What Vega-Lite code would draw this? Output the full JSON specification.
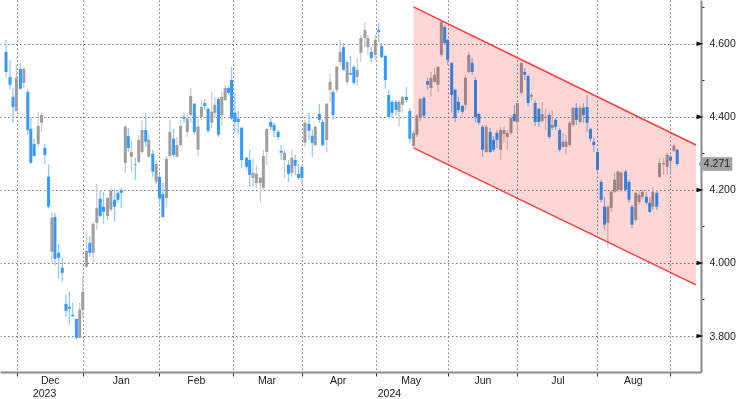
{
  "$schema": "https://vega.github.io/schema/vega-lite/v6.json",
  "width": 701,
  "height": 372,
  "autosize": {"type": "none"},
  "padding": {"left": 0, "top": 0, "right": 36, "bottom": 27},
  "background": "white",
  "config": {
    "view": {"stroke": null},
    "axis": {"labelFont": "Liberation Sans", "labelFontSize": 10.5, "labelColor": "#1a1a1a", "title": null}
  },
  "datasets": {
    "candles": [
{"t":0.3,"o":4.578,"h":4.611,"l":4.509,"c":4.523},
{"t":1.5,"o":4.509,"h":4.556,"l":4.474,"c":4.488},
{"t":2.4,"o":4.455,"h":4.479,"l":4.384,"c":4.427},
{"t":3.4,"o":4.416,"h":4.542,"l":4.414,"c":4.507},
{"t":4.6,"o":4.531,"h":4.548,"l":4.474,"c":4.477},
{"t":5.6,"o":4.493,"h":4.537,"l":4.479,"c":4.531},
{"t":6.8,"o":4.468,"h":4.474,"l":4.351,"c":4.364},
{"t":7.7,"o":4.367,"h":4.400,"l":4.272,"c":4.274},
{"t":8.7,"o":4.326,"h":4.340,"l":4.291,"c":4.293},
{"t":9.9,"o":4.326,"h":4.414,"l":4.318,"c":4.375},
{"t":10.9,"o":4.384,"h":4.414,"l":4.359,"c":4.405},
{"t":11.9,"o":4.315,"h":4.326,"l":4.271,"c":4.296},
{"t":13.0,"o":4.236,"h":4.269,"l":4.150,"c":4.154},
{"t":14.0,"o":4.031,"h":4.140,"l":4.001,"c":4.124},
{"t":14.9,"o":4.126,"h":4.137,"l":3.992,"c":4.012},
{"t":16.0,"o":4.028,"h":4.053,"l":3.957,"c":4.014},
{"t":17.1,"o":3.987,"h":4.014,"l":3.949,"c":3.973},
{"t":18.2,"o":3.888,"h":3.913,"l":3.853,"c":3.869},
{"t":19.2,"o":3.880,"h":3.921,"l":3.831,"c":3.875},
{"t":20.2,"o":3.858,"h":3.891,"l":3.853,"c":3.854},
{"t":21.3,"o":3.847,"h":3.847,"l":3.790,"c":3.795},
{"t":22.3,"o":3.795,"h":3.891,"l":3.793,"c":3.872},
{"t":23.2,"o":3.872,"h":3.968,"l":3.850,"c":3.921},
{"t":24.3,"o":3.990,"h":4.085,"l":3.987,"c":4.033},
{"t":25.3,"o":4.055,"h":4.072,"l":4.017,"c":4.028},
{"t":26.3,"o":4.028,"h":4.113,"l":4.001,"c":4.107},
{"t":27.4,"o":4.110,"h":4.217,"l":4.091,"c":4.151},
{"t":28.4,"o":4.176,"h":4.200,"l":4.124,"c":4.129},
{"t":29.4,"o":4.154,"h":4.195,"l":4.107,"c":4.140},
{"t":30.6,"o":4.129,"h":4.181,"l":4.118,"c":4.178},
{"t":31.6,"o":4.146,"h":4.209,"l":4.140,"c":4.198},
{"t":32.7,"o":4.173,"h":4.200,"l":4.115,"c":4.154},
{"t":33.7,"o":4.192,"h":4.200,"l":4.165,"c":4.173},
{"t":34.7,"o":4.200,"h":4.206,"l":4.151,"c":4.192},
{"t":35.9,"o":4.274,"h":4.378,"l":4.247,"c":4.373},
{"t":36.8,"o":4.348,"h":4.370,"l":4.304,"c":4.315},
{"t":37.7,"o":4.291,"h":4.337,"l":4.250,"c":4.304},
{"t":38.9,"o":4.271,"h":4.288,"l":4.228,"c":4.269},
{"t":39.9,"o":4.277,"h":4.351,"l":4.274,"c":4.337},
{"t":40.9,"o":4.304,"h":4.392,"l":4.299,"c":4.364},
{"t":42.0,"o":4.364,"h":4.411,"l":4.318,"c":4.332},
{"t":42.9,"o":4.291,"h":4.351,"l":4.288,"c":4.337},
{"t":44.1,"o":4.299,"h":4.310,"l":4.236,"c":4.250},
{"t":45.1,"o":4.222,"h":4.282,"l":4.217,"c":4.271},
{"t":46.1,"o":4.236,"h":4.244,"l":4.162,"c":4.176},
{"t":47.1,"o":4.189,"h":4.219,"l":4.124,"c":4.126},
{"t":48.2,"o":4.178,"h":4.293,"l":4.151,"c":4.285},
{"t":49.2,"o":4.293,"h":4.392,"l":4.288,"c":4.359},
{"t":50.3,"o":4.340,"h":4.367,"l":4.291,"c":4.296},
{"t":51.3,"o":4.291,"h":4.345,"l":4.288,"c":4.323},
{"t":52.4,"o":4.323,"h":4.392,"l":4.318,"c":4.375},
{"t":53.4,"o":4.400,"h":4.411,"l":4.384,"c":4.395},
{"t":54.4,"o":4.359,"h":4.405,"l":4.345,"c":4.395},
{"t":55.4,"o":4.405,"h":4.479,"l":4.384,"c":4.457},
{"t":56.5,"o":4.436,"h":4.438,"l":4.353,"c":4.359},
{"t":57.6,"o":4.310,"h":4.400,"l":4.291,"c":4.373},
{"t":58.6,"o":4.400,"h":4.446,"l":4.392,"c":4.427},
{"t":59.6,"o":4.438,"h":4.449,"l":4.419,"c":4.430},
{"t":60.6,"o":4.422,"h":4.425,"l":4.356,"c":4.362},
{"t":61.7,"o":4.384,"h":4.468,"l":4.370,"c":4.414},
{"t":62.6,"o":4.411,"h":4.455,"l":4.397,"c":4.433},
{"t":63.7,"o":4.449,"h":4.455,"l":4.345,"c":4.351},
{"t":64.7,"o":4.405,"h":4.468,"l":4.375,"c":4.455},
{"t":65.7,"o":4.446,"h":4.488,"l":4.444,"c":4.479},
{"t":66.7,"o":4.479,"h":4.485,"l":4.460,"c":4.466},
{"t":67.6,"o":4.501,"h":4.537,"l":4.392,"c":4.395},
{"t":68.6,"o":4.411,"h":4.466,"l":4.356,"c":4.386},
{"t":69.6,"o":4.395,"h":4.416,"l":4.356,"c":4.386},
{"t":70.6,"o":4.370,"h":4.373,"l":4.260,"c":4.282},
{"t":72.1,"o":4.288,"h":4.291,"l":4.255,"c":4.263},
{"t":73.0,"o":4.282,"h":4.310,"l":4.209,"c":4.241},
{"t":74.0,"o":4.233,"h":4.288,"l":4.209,"c":4.247},
{"t":75.0,"o":4.219,"h":4.269,"l":4.206,"c":4.244},
{"t":76.2,"o":4.219,"h":4.236,"l":4.165,"c":4.233},
{"t":77.1,"o":4.206,"h":4.310,"l":4.200,"c":4.293},
{"t":78.1,"o":4.304,"h":4.370,"l":4.269,"c":4.367},
{"t":79.3,"o":4.386,"h":4.397,"l":4.364,"c":4.373},
{"t":80.3,"o":4.378,"h":4.384,"l":4.345,"c":4.362},
{"t":81.5,"o":4.359,"h":4.364,"l":4.337,"c":4.345},
{"t":82.4,"o":4.307,"h":4.323,"l":4.282,"c":4.302},
{"t":83.4,"o":4.282,"h":4.310,"l":4.233,"c":4.302},
{"t":84.6,"o":4.269,"h":4.282,"l":4.222,"c":4.244},
{"t":85.6,"o":4.247,"h":4.310,"l":4.236,"c":4.288},
{"t":86.6,"o":4.282,"h":4.296,"l":4.241,"c":4.266},
{"t":87.6,"o":4.244,"h":4.271,"l":4.228,"c":4.233},
{"t":88.6,"o":4.263,"h":4.269,"l":4.214,"c":4.233},
{"t":89.5,"o":4.329,"h":4.392,"l":4.318,"c":4.384},
{"t":90.7,"o":4.381,"h":4.411,"l":4.337,"c":4.362},
{"t":91.7,"o":4.348,"h":4.364,"l":4.291,"c":4.329},
{"t":92.6,"o":4.323,"h":4.378,"l":4.318,"c":4.373},
{"t":93.8,"o":4.408,"h":4.436,"l":4.384,"c":4.392},
{"t":94.8,"o":4.386,"h":4.392,"l":4.318,"c":4.323},
{"t":96.0,"o":4.337,"h":4.438,"l":4.304,"c":4.436},
{"t":97.0,"o":4.474,"h":4.520,"l":4.441,"c":4.496},
{"t":97.9,"o":4.468,"h":4.474,"l":4.392,"c":4.405},
{"t":99.0,"o":4.474,"h":4.539,"l":4.466,"c":4.537},
{"t":100.0,"o":4.550,"h":4.611,"l":4.542,"c":4.578},
{"t":101.0,"o":4.591,"h":4.602,"l":4.526,"c":4.529},
{"t":102.1,"o":4.496,"h":4.556,"l":4.488,"c":4.550},
{"t":103.1,"o":4.520,"h":4.567,"l":4.515,"c":4.516},
{"t":104.1,"o":4.537,"h":4.542,"l":4.488,"c":4.493},
{"t":105.1,"o":4.509,"h":4.559,"l":4.485,"c":4.529},
{"t":106.2,"o":4.575,"h":4.624,"l":4.550,"c":4.616},
{"t":107.4,"o":4.616,"h":4.660,"l":4.591,"c":4.638},
{"t":108.3,"o":4.591,"h":4.624,"l":4.570,"c":4.616},
{"t":109.3,"o":4.578,"h":4.591,"l":4.548,"c":4.561},
{"t":110.5,"o":4.570,"h":4.624,"l":4.556,"c":4.611},
{"t":111.5,"o":4.638,"h":4.657,"l":4.605,"c":4.632},
{"t":112.4,"o":4.594,"h":4.602,"l":4.561,"c":4.564},
{"t":113.5,"o":4.567,"h":4.570,"l":4.477,"c":4.501},
{"t":114.5,"o":4.460,"h":4.474,"l":4.397,"c":4.400},
{"t":115.5,"o":4.441,"h":4.446,"l":4.397,"c":4.411},
{"t":116.7,"o":4.441,"h":4.446,"l":4.405,"c":4.419},
{"t":117.6,"o":4.414,"h":4.446,"l":4.373,"c":4.441},
{"t":118.6,"o":4.433,"h":4.457,"l":4.411,"c":4.455},
{"t":119.8,"o":4.455,"h":4.482,"l":4.441,"c":4.446},
{"t":120.8,"o":4.416,"h":4.425,"l":4.329,"c":4.340},
{"t":121.9,"o":4.321,"h":4.362,"l":4.318,"c":4.356},
{"t":122.9,"o":4.351,"h":4.408,"l":4.345,"c":4.403},
{"t":123.9,"o":4.397,"h":4.452,"l":4.386,"c":4.449},
{"t":125.0,"o":4.452,"h":4.457,"l":4.397,"c":4.403},
{"t":126.1,"o":4.498,"h":4.507,"l":4.474,"c":4.488},
{"t":127.1,"o":4.479,"h":4.523,"l":4.455,"c":4.507},
{"t":128.2,"o":4.496,"h":4.534,"l":4.493,"c":4.515},
{"t":129.2,"o":4.488,"h":4.537,"l":4.468,"c":4.537},
{"t":130.2,"o":4.570,"h":4.665,"l":4.564,"c":4.660},
{"t":131.2,"o":4.646,"h":4.652,"l":4.597,"c":4.602},
{"t":132.1,"o":4.611,"h":4.613,"l":4.542,"c":4.556},
{"t":133.3,"o":4.548,"h":4.550,"l":4.411,"c":4.460},
{"t":134.3,"o":4.474,"h":4.477,"l":4.386,"c":4.397},
{"t":135.3,"o":4.441,"h":4.455,"l":4.411,"c":4.419},
{"t":136.5,"o":4.430,"h":4.433,"l":4.408,"c":4.414},
{"t":137.4,"o":4.433,"h":4.515,"l":4.419,"c":4.507},
{"t":138.4,"o":4.523,"h":4.578,"l":4.520,"c":4.570},
{"t":139.4,"o":4.548,"h":4.561,"l":4.515,"c":4.523},
{"t":140.4,"o":4.501,"h":4.509,"l":4.384,"c":4.400},
{"t":141.4,"o":4.408,"h":4.411,"l":4.378,"c":4.384},
{"t":142.5,"o":4.373,"h":4.378,"l":4.291,"c":4.310},
{"t":143.6,"o":4.304,"h":4.378,"l":4.302,"c":4.373},
{"t":144.8,"o":4.359,"h":4.370,"l":4.302,"c":4.304},
{"t":145.8,"o":4.337,"h":4.348,"l":4.304,"c":4.310},
{"t":146.8,"o":4.356,"h":4.364,"l":4.315,"c":4.337},
{"t":147.9,"o":4.310,"h":4.373,"l":4.282,"c":4.364},
{"t":148.9,"o":4.353,"h":4.373,"l":4.329,"c":4.364},
{"t":149.9,"o":4.345,"h":4.364,"l":4.310,"c":4.356},
{"t":151.0,"o":4.356,"h":4.405,"l":4.351,"c":4.397},
{"t":152.0,"o":4.408,"h":4.433,"l":4.386,"c":4.389},
{"t":152.9,"o":4.386,"h":4.438,"l":4.359,"c":4.438},
{"t":154.1,"o":4.466,"h":4.550,"l":4.460,"c":4.548},
{"t":155.1,"o":4.523,"h":4.534,"l":4.501,"c":4.515},
{"t":156.1,"o":4.512,"h":4.515,"l":4.427,"c":4.438},
{"t":157.1,"o":4.455,"h":4.466,"l":4.446,"c":4.460},
{"t":158.2,"o":4.438,"h":4.446,"l":4.375,"c":4.386},
{"t":159.3,"o":4.422,"h":4.425,"l":4.373,"c":4.386},
{"t":160.3,"o":4.389,"h":4.441,"l":4.384,"c":4.408},
{"t":161.3,"o":4.397,"h":4.422,"l":4.364,"c":4.400},
{"t":162.4,"o":4.405,"h":4.411,"l":4.340,"c":4.345},
{"t":163.3,"o":4.370,"h":4.419,"l":4.364,"c":4.378},
{"t":164.3,"o":4.392,"h":4.397,"l":4.364,"c":4.373},
{"t":165.5,"o":4.364,"h":4.370,"l":4.304,"c":4.310},
{"t":166.5,"o":4.318,"h":4.356,"l":4.315,"c":4.332},
{"t":167.4,"o":4.318,"h":4.351,"l":4.296,"c":4.332},
{"t":168.5,"o":4.323,"h":4.389,"l":4.318,"c":4.384},
{"t":169.5,"o":4.378,"h":4.427,"l":4.373,"c":4.425},
{"t":170.5,"o":4.425,"h":4.438,"l":4.378,"c":4.392},
{"t":171.6,"o":4.386,"h":4.430,"l":4.381,"c":4.425},
{"t":172.6,"o":4.425,"h":4.438,"l":4.384,"c":4.405},
{"t":173.7,"o":4.427,"h":4.460,"l":4.359,"c":4.384},
{"t":174.7,"o":4.367,"h":4.370,"l":4.332,"c":4.340},
{"t":175.7,"o":4.332,"h":4.343,"l":4.304,"c":4.323},
{"t":176.8,"o":4.304,"h":4.310,"l":4.250,"c":4.255},
{"t":177.9,"o":4.222,"h":4.228,"l":4.167,"c":4.173},
{"t":178.9,"o":4.154,"h":4.181,"l":4.091,"c":4.105},
{"t":179.9,"o":4.110,"h":4.159,"l":4.042,"c":4.154},
{"t":180.9,"o":4.151,"h":4.200,"l":4.140,"c":4.195},
{"t":181.9,"o":4.195,"h":4.247,"l":4.192,"c":4.228},
{"t":182.9,"o":4.200,"h":4.255,"l":4.195,"c":4.250},
{"t":183.8,"o":4.200,"h":4.252,"l":4.195,"c":4.247},
{"t":185.2,"o":4.250,"h":4.255,"l":4.195,"c":4.200},
{"t":186.2,"o":4.222,"h":4.228,"l":4.165,"c":4.173},
{"t":187.1,"o":4.154,"h":4.159,"l":4.096,"c":4.105},
{"t":188.2,"o":4.118,"h":4.195,"l":4.113,"c":4.192},
{"t":189.2,"o":4.167,"h":4.200,"l":4.159,"c":4.187},
{"t":190.2,"o":4.181,"h":4.200,"l":4.173,"c":4.195},
{"t":191.4,"o":4.181,"h":4.195,"l":4.159,"c":4.165},
{"t":192.4,"o":4.165,"h":4.181,"l":4.137,"c":4.140},
{"t":193.3,"o":4.154,"h":4.209,"l":4.146,"c":4.195},
{"t":194.5,"o":4.192,"h":4.200,"l":4.146,"c":4.154},
{"t":195.3,"o":4.236,"h":4.288,"l":4.233,"c":4.274},
{"t":196.5,"o":4.270,"h":4.288,"l":4.241,"c":4.274},
{"t":197.6,"o":4.263,"h":4.302,"l":4.241,"c":4.296},
{"t":198.6,"o":4.291,"h":4.296,"l":4.247,"c":4.280},
{"t":199.6,"o":4.307,"h":4.326,"l":4.304,"c":4.321},
{"t":200.6,"o":4.310,"h":4.313,"l":4.266,"c":4.271}
    ],
    "channel": [
      {"t": 121.9, "top": 4.701, "bot": 4.315},
      {"t": 206.2, "top": 4.323, "bot": 3.940}
    ],
    "majors": [{"v": 3.8}, {"v": 4.0}, {"v": 4.2}, {"v": 4.4}, {"v": 4.6}],
    "last": [{"v": 4.271}],
    "months": [
      {"t": 13.5, "label": "Dec"}, {"t": 34.7, "label": "Jan"}, {"t": 57.1, "label": "Feb"},
      {"t": 78.2, "label": "Mar"}, {"t": 99.4, "label": "Apr"}, {"t": 121.2, "label": "May"},
      {"t": 142.6, "label": "Jun"}, {"t": 165.0, "label": "Jul"}, {"t": 187.5, "label": "Aug"}
    ],
    "years": [{"t": 11.8, "label": "2023"}, {"t": 114.7, "label": "2024"}]
  },
  "layer": [
    {
      "data": {"name": "candles"},
      "mark": {"type": "rule", "strokeWidth": 1.3},
      "encoding": {
        "x": {"field": "t", "type": "quantitative", "scale": {"domain": [0, 206.2], "nice": false, "zero": false},
          "axis": {"values": [3.5, 23.2, 45.9, 67.9, 88.5, 110.6, 132.1, 152.9, 176.8, 198.5], "labels": false,
            "domainColor": "#8a8a8a", "domainWidth": 2, "tickColor": "#333333", "tickSize": 4, "tickWidth": 1,
            "grid": true, "gridColor": "#7a7a7a", "gridDash": [1.5, 2.5], "gridWidth": 1, "title": null}},
        "y": {"field": "l", "type": "quantitative", "scale": {"domain": [3.7015, 4.72], "nice": false, "zero": false},
          "axis": {"orient": "right", "values": [3.8, 3.9, 4.0, 4.1, 4.2, 4.3, 4.4, 4.5, 4.6, 4.7],
            "labelExpr": "round(datum.value*10) % 2 == 0 ? format(datum.value, '.3f') : ''",
            "domainColor": "#8a8a8a", "domainWidth": 2, "tickColor": "#333333", "tickSize": 3, "tickWidth": 1,
            "tickOpacity": {"condition": {"test": "round(datum.value*10) % 2 == 0", "value": 0}, "value": 1},
            "labelPadding": 5, "grid": true, "gridColor": "#7a7a7a", "gridDash": [1.5, 2.5], "gridWidth": 1,
            "gridOpacity": {"condition": {"test": "round(datum.value*10) % 2 == 0", "value": 1}, "value": 0},
            "title": null}},
        "y2": {"field": "h"},
        "stroke": {"condition": {"test": "datum.c < datum.o", "value": "#92c8ff"}, "value": "#cccccc"}
      }
    },
    {
      "data": {"name": "candles"},
      "mark": {"type": "bar", "width": 3},
      "encoding": {
        "x": {"field": "t", "type": "quantitative", "scale": {"domain": [0, 206.2], "nice": false, "zero": false}, "title": null},
        "y": {"field": "o", "type": "quantitative", "scale": {"domain": [3.7015, 4.72], "nice": false, "zero": false}, "title": null},
        "y2": {"field": "c"},
        "fill": {"condition": {"test": "datum.c < datum.o", "value": "#3399ff"}, "value": "#9e9e9e"}
      }
    },
    {
      "data": {"name": "channel"},
      "mark": {"type": "area", "fill": "#ffd6d6", "blend": "multiply", "opacity": 1},
      "encoding": {
        "x": {"field": "t", "type": "quantitative", "title": null},
        "y": {"field": "top", "type": "quantitative", "title": null},
        "y2": {"field": "bot"}
      }
    },
    {
      "data": {"name": "channel"},
      "mark": {"type": "line", "stroke": "#ff3b3b", "strokeWidth": 1.4},
      "encoding": {
        "x": {"field": "t", "type": "quantitative", "title": null},
        "y": {"field": "top", "type": "quantitative", "title": null}
      }
    },
    {
      "data": {"name": "channel"},
      "mark": {"type": "line", "stroke": "#ff3b3b", "strokeWidth": 1.4},
      "encoding": {
        "x": {"field": "t", "type": "quantitative", "title": null},
        "y": {"field": "bot", "type": "quantitative", "title": null}
      }
    },
    {
      "data": {"name": "majors"},
      "mark": {"type": "point", "shape": "M-1,-0.65L1,0L-1,0.65Z", "size": 49, "filled": true, "fill": "#111111", "strokeWidth": 0, "opacity": 1, "xOffset": 4},
      "encoding": {
        "x": {"datum": 206.2, "type": "quantitative"},
        "y": {"field": "v", "type": "quantitative", "title": null}
      }
    },
    {
      "data": {"name": "last"},
      "mark": {"type": "point", "shape": "M-1,0L-0.72,-0.4L1,-0.4L1,0.4L-0.72,0.4Z", "size": 1089, "filled": true, "fill": "#a3a3a3", "stroke": "#8a8a8a", "strokeWidth": 0.5, "opacity": 1, "xOffset": 19.5},
      "encoding": {
        "x": {"datum": 206.2, "type": "quantitative"},
        "y": {"field": "v", "type": "quantitative", "title": null}
      }
    },
    {
      "data": {"name": "last"},
      "mark": {"type": "text", "font": "Liberation Sans", "fontSize": 10.5, "color": "#1e1e1e", "align": "center", "baseline": "middle", "xOffset": 21, "yOffset": 0.5},
      "encoding": {
        "x": {"datum": 206.2, "type": "quantitative"},
        "y": {"field": "v", "type": "quantitative", "title": null},
        "text": {"field": "v", "type": "quantitative", "format": ".3f"}
      }
    },
    {
      "data": {"name": "months"},
      "mark": {"type": "text", "font": "Liberation Sans", "fontSize": 10.5, "color": "#1a1a1a", "align": "center", "baseline": "alphabetic"},
      "encoding": {
        "x": {"field": "t", "type": "quantitative", "title": null},
        "y": {"datum": 3.6697, "type": "quantitative"},
        "text": {"field": "label"}
      }
    },
    {
      "data": {"name": "years"},
      "mark": {"type": "text", "font": "Liberation Sans", "fontSize": 10.5, "color": "#1a1a1a", "align": "center", "baseline": "alphabetic"},
      "encoding": {
        "x": {"field": "t", "type": "quantitative", "title": null},
        "y": {"datum": 3.6341, "type": "quantitative"},
        "text": {"field": "label"}
      }
    },
    {
      "mark": {"type": "rule", "stroke": "#b0b0b0", "strokeWidth": 1},
      "encoding": {
        "x": {"datum": 23.2, "type": "quantitative"},
        "y": {"datum": 3.6645, "type": "quantitative"},
        "y2": {"datum": 3.626}
      }
    }
  ]
}
